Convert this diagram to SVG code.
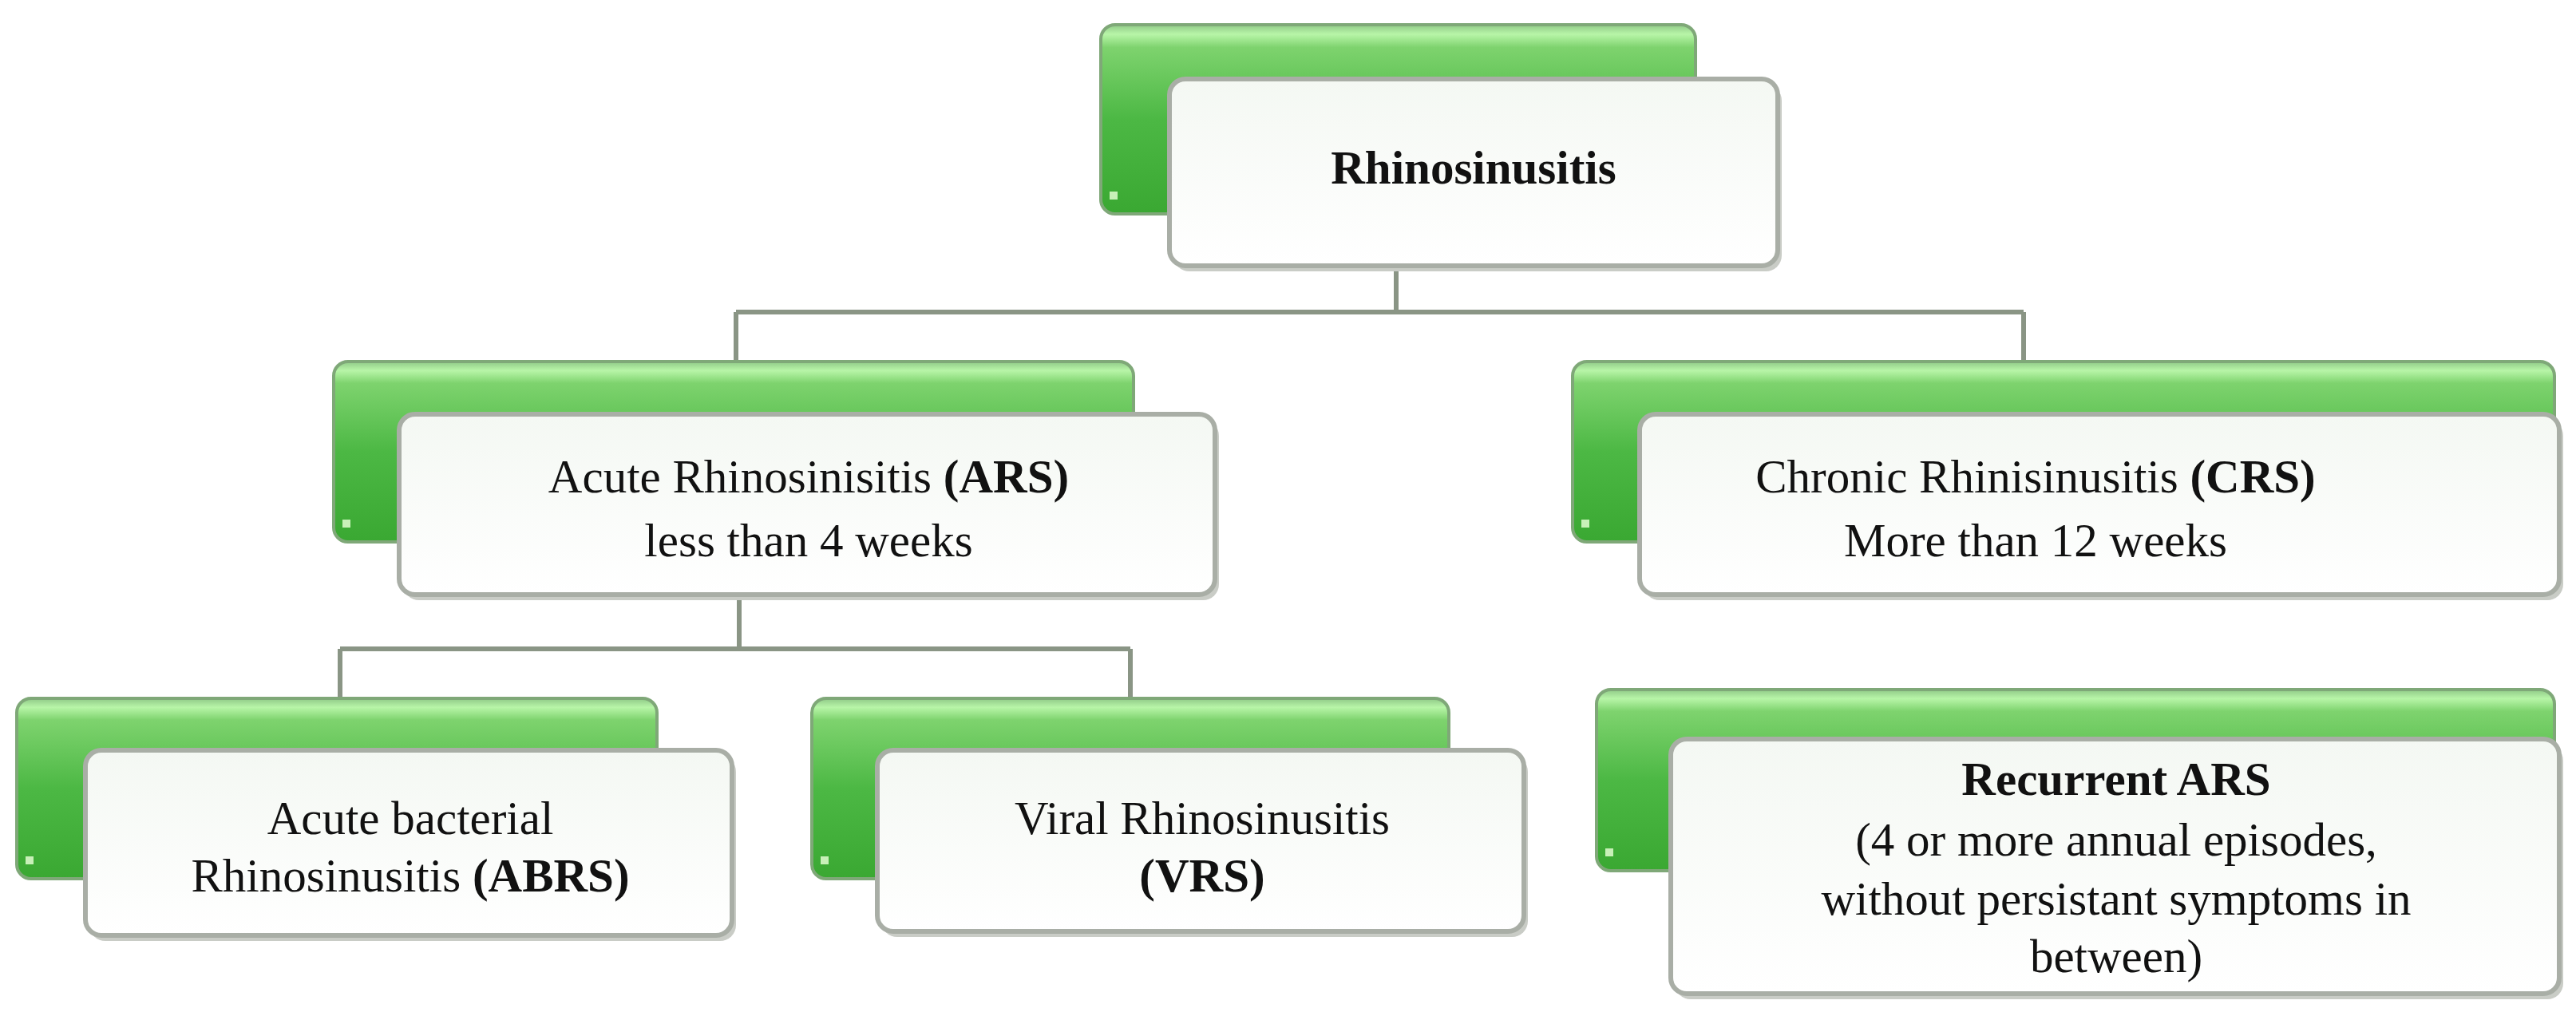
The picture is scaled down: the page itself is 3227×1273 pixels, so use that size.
<svg xmlns="http://www.w3.org/2000/svg" width="3227" height="1273" viewBox="0 0 3227 1273">
<defs>
<linearGradient id="g" x1="0" y1="0" x2="0" y2="1">
<stop offset="0" stop-color="#8fc987"/>
<stop offset="0.05" stop-color="#b8f5a8"/>
<stop offset="0.12" stop-color="#7ed36e"/>
<stop offset="0.5" stop-color="#4cb844"/>
<stop offset="1" stop-color="#3aa832"/>
</linearGradient>
<linearGradient id="w" x1="0" y1="0" x2="0" y2="1">
<stop offset="0" stop-color="#f4f8f3"/>
<stop offset="1" stop-color="#ffffff"/>
</linearGradient>
</defs>
<style>
.gr{fill:url(#g);stroke:#7fa878;stroke-width:4}
.wh{fill:url(#w);stroke:#a9aea6;stroke-width:6}
.sh{fill:#c9ccc6}
.dot{fill:#c8f0b8}
text{font-family:"Liberation Serif","Times New Roman",serif;font-size:59px;fill:#111;text-anchor:middle}
.b{font-weight:bold}
.con{fill:none;stroke:#8a9585;stroke-width:6}
</style>
<rect width="3227" height="1273" fill="#fff"/>
<g id="connectors" class="con">
<path d="M1749 333V391M922 391H2535M922 391V457M2535 391V457"/>
<path d="M926 745V813M426 813H1416M426 813V881M1416 813V881"/>
</g>
<g id="root">
<rect class="gr" x="1379" y="31" width="745" height="237" rx="18"/>
<rect class="dot" x="1390" y="240" width="10" height="10"/>
<rect class="sh" x="1470" y="106" width="762" height="234" rx="20"/>
<rect class="wh" x="1465" y="99" width="762" height="234" rx="20"/>
<text class="b" x="1846" y="230">Rhinosinusitis</text>
</g>
<g id="ars">
<rect class="gr" x="418" y="453" width="1002" height="226" rx="18"/>
<rect class="dot" x="429" y="651" width="10" height="10"/>
<rect class="sh" x="505" y="526" width="1022" height="226" rx="20"/>
<rect class="wh" x="500" y="519" width="1022" height="226" rx="20"/>
<text x="1013" y="617">Acute Rhinosinisitis <tspan class="b">(ARS)</tspan></text>
<text x="1013" y="697">less than 4 weeks</text>
</g>
<g id="crs">
<rect class="gr" x="1970" y="453" width="1230" height="226" rx="18"/>
<rect class="dot" x="1981" y="651" width="10" height="10"/>
<rect class="sh" x="2059" y="526" width="1152" height="226" rx="20"/>
<rect class="wh" x="2054" y="519" width="1152" height="226" rx="20"/>
<text x="2550" y="617">Chronic Rhinisinusitis <tspan class="b">(CRS)</tspan></text>
<text x="2550" y="697">More than 12 weeks</text>
</g>
<g id="abrs">
<rect class="gr" x="21" y="875" width="802" height="226" rx="18"/>
<rect class="dot" x="32" y="1073" width="10" height="10"/>
<rect class="sh" x="112" y="947" width="810" height="232" rx="20"/>
<rect class="wh" x="107" y="940" width="810" height="232" rx="20"/>
<text x="514" y="1045">Acute bacterial</text>
<text x="514" y="1117">Rhinosinusitis <tspan class="b">(ABRS)</tspan></text>
</g>
<g id="vrs">
<rect class="gr" x="1017" y="875" width="798" height="226" rx="18"/>
<rect class="dot" x="1028" y="1073" width="10" height="10"/>
<rect class="sh" x="1104" y="947" width="810" height="227" rx="20"/>
<rect class="wh" x="1099" y="940" width="810" height="227" rx="20"/>
<text x="1506" y="1045">Viral Rhinosinusitis</text>
<text class="b" x="1506" y="1117">(VRS)</text>
</g>
<g id="recurrent">
<rect class="gr" x="2000" y="864" width="1200" height="227" rx="18"/>
<rect class="dot" x="2011" y="1063" width="10" height="10"/>
<rect class="sh" x="2098" y="933" width="1113" height="319" rx="20"/>
<rect class="wh" x="2093" y="926" width="1113" height="319" rx="20"/>
<text class="b" x="2651" y="996">Recurrent ARS</text>
<text x="2651" y="1072">(4 or more annual episodes,</text>
<text x="2651" y="1146">without persistant symptoms in</text>
<text x="2651" y="1218">between)</text>
</g>
</svg>
